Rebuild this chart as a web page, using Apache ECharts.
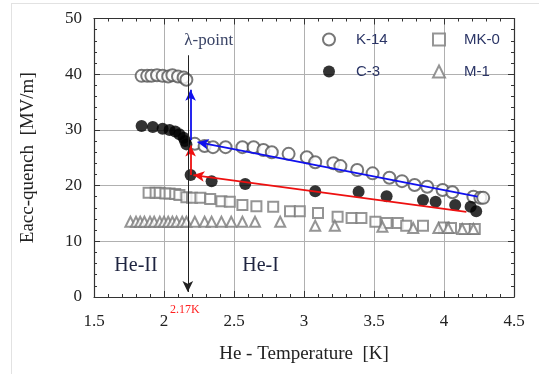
<!DOCTYPE html>
<html>
<head>
<meta charset="utf-8">
<script src="https://cdn.jsdelivr.net/npm/echarts@6/dist/echarts.min.js"></script>
<style>
  html, body { margin: 0; padding: 0; background: #fff; }
  #frame { position: absolute; left: 11px; top: 3px; width: 528px; height: 371px; border-top: 1px solid #e2e2e2; border-left: 1px solid #e2e2e2; }
  #chart { position: absolute; left: 0; top: 0; width: 539px; height: 374px; }
</style>
</head>
<body>
<div id="frame"></div>
<div id="chart"></div>
<script>
// K-14 (open circles)
const k14 = [
  [1.84, 39.7], [1.88, 39.7], [1.91, 39.7], [1.95, 39.8], [1.99, 39.7], [2.03, 39.6],
  [2.06, 39.8], [2.10, 39.6], [2.14, 39.4], [2.16, 39.0],
  [2.22, 27.5], [2.29, 27.1], [2.35, 26.9], [2.44, 26.9], [2.56, 26.9], [2.64, 26.9],
  [2.71, 26.4], [2.77, 26.0], [2.89, 25.7], [3.02, 25.1], [3.08, 24.2], [3.21, 24.0],
  [3.26, 23.5], [3.38, 22.8], [3.49, 22.2], [3.61, 21.4], [3.70, 20.8], [3.79, 20.1],
  [3.88, 19.8], [3.99, 19.2], [4.06, 18.8], [4.21, 18.0], [4.26, 17.8], [4.28, 17.8]
]
// C-3 (filled circles)
const c3 = [
  [1.84, 30.7], [1.92, 30.5], [1.99, 30.2], [2.04, 30.0], [2.08, 29.7], [2.11, 29.2],
  [2.14, 28.6], [2.15, 28.0], [2.16, 27.4],
  [2.19, 21.9], [2.34, 20.8], [2.58, 20.3], [3.08, 19.0], [3.39, 18.9], [3.59, 18.1],
  [3.85, 17.4], [3.94, 17.1], [4.08, 16.5], [4.19, 16.2], [4.23, 15.4]
]
// MK-0 (open squares)
const mk0 = [
  [1.89, 18.7], [1.94, 18.7], [1.97, 18.7], [2.01, 18.6], [2.04, 18.6], [2.08, 18.5],
  [2.11, 18.3], [2.16, 17.9], [2.20, 17.8], [2.26, 17.8], [2.33, 17.6], [2.41, 17.2],
  [2.47, 17.1], [2.56, 16.5], [2.66, 16.3], [2.78, 16.2], [2.90, 15.4], [2.97, 15.4],
  [3.10, 15.1], [3.24, 14.4], [3.34, 14.2], [3.41, 14.2], [3.51, 13.5], [3.59, 13.3],
  [3.67, 13.3], [3.73, 12.8], [3.85, 12.8], [4.00, 12.5], [4.05, 12.4], [4.15, 12.2],
  [4.22, 12.2]
]
// M-1 (open triangles)
const m1 = [
  [1.76, 13.5], [1.80, 13.5], [1.83, 13.5], [1.86, 13.5], [1.90, 13.5], [1.93, 13.5],
  [1.97, 13.5], [2.00, 13.5], [2.03, 13.5], [2.06, 13.5], [2.09, 13.5], [2.13, 13.5],
  [2.16, 13.5], [2.22, 13.5], [2.29, 13.5], [2.34, 13.5], [2.41, 13.5], [2.48, 13.5],
  [2.56, 13.5], [2.65, 13.5], [2.83, 13.5], [3.08, 12.8], [3.22, 12.8], [3.56, 12.6],
  [3.78, 12.4], [3.96, 12.4], [4.03, 12.4], [4.13, 12.2], [4.21, 12.2]
]

const lambdaT = 2.17
// arrows: [from, to, colour]
const arrows = [
  [[4.24, 18.0], [2.24, 27.8], '#1010ee'],
  [[2.19, 28.2], [2.19, 37.2], '#1010ee'],
  [[4.16, 15.3], [2.21, 21.9], '#ee1010'],
  [[2.19, 21.9], [2.19, 27.2], '#ee1010'],
  [[lambdaT, 43.4], [lambdaT, 0.9], '#222']
]
// text notes: [x, y, text]
const notes = [
  [2.32, 46.1, 'λ-point'],
  [1.80, 5.7, 'He-II'],
  [2.69, 5.7, 'He-I']
]

const serif = 'Liberation Serif'
const sans = 'Liberation Sans'

const chart = echarts.init(document.getElementById('chart'))

function axis(extra) {
  return Object.assign({
    axisLine: { show: true, onZero: false, lineStyle: { color: '#333', width: 1.2 } },
    axisTick: { show: true, inside: true, length: 6, lineStyle: { color: '#333' } },
    minorTick: { show: true, splitNumber: 5, length: 3, lineStyle: { color: '#333' } }
  }, extra)
}

function symbolSeries(name, data, symbol, size, color) {
  return {
    name: name,
    type: 'scatter',
    data: data,
    symbol: symbol,
    symbolSize: size,
    itemStyle: { color: color, borderWidth: 1 },
    z: 3
  }
}

chart.setOption({
  animation: false,
  textStyle: { fontFamily: serif },
  grid: { left: 94, right: 25, top: 18.5, bottom: 77, containLabel: false },
  xAxis: [
    axis({
      type: 'value', min: 1.5, max: 4.5, interval: 0.5, position: 'bottom',
      name: 'He - Temperature  [K]', nameLocation: 'middle', nameGap: 48,
      nameTextStyle: { fontFamily: serif, fontSize: 19, color: '#222' },
      axisLabel: { fontFamily: serif, fontSize: 17, color: '#222', margin: 16 },
      splitLine: { show: true, lineStyle: { color: '#b0b0b0' } }
    }),
    axis({
      type: 'value', min: 1.5, max: 4.5, interval: 0.5, position: 'top',
      axisLabel: { show: false }, splitLine: { show: false }
    })
  ],
  yAxis: [
    axis({
      type: 'value', min: 0, max: 50, interval: 10, position: 'left',
      name: 'Eacc-quench  [MV/m]', nameLocation: 'middle', nameGap: 56, nameRotate: 90,
      nameTextStyle: { fontFamily: serif, fontSize: 19, color: '#222' },
      axisLabel: { fontFamily: serif, fontSize: 17, color: '#222', margin: 12 },
      splitLine: { show: true, lineStyle: { color: '#b0b0b0' } }
    }),
    axis({
      type: 'value', min: 0, max: 50, interval: 10, position: 'right',
      axisLabel: { show: false }, splitLine: { show: false }
    })
  ],
  legend: [
    {
      data: ['K-14', 'C-3'], orient: 'vertical', left: 317, top: 27,
      itemWidth: 12, itemHeight: 12, itemGap: 17,
      textStyle: { fontFamily: sans, fontSize: 15, color: '#2b3566', padding: [0, 0, 0, 16] }
    },
    {
      data: ['MK-0', 'M-1'], orient: 'vertical', left: 427, top: 27,
      itemWidth: 12, itemHeight: 12, itemGap: 17,
      textStyle: { fontFamily: sans, fontSize: 15, color: '#2b3566', padding: [0, 0, 0, 14] }
    }
  ],
  series: [
    symbolSeries('MK-0', mk0, 'emptyRect', 10, '#7a7a7a'),
    symbolSeries('M-1', m1, 'emptyTriangle', 10, '#7a7a7a'),
    symbolSeries('K-14', k14, 'emptyCircle', 12, '#555'),
    symbolSeries('C-3', c3, 'circle', 12, '#000'),
    {
      name: 'notes',
      type: 'scatter',
      data: [],
      silent: true,
      z: 5,
      markLine: {
        silent: true,
        symbol: ['none', 'arrow'],
        symbolSize: [8, 11],
        label: { show: false },
        data: arrows.map(a => [
          { coord: a[0], lineStyle: { color: a[2], width: a[2] === '#222' ? 1 : 1.8, type: 'solid' } },
          { coord: a[1], lineStyle: { color: a[2], width: a[2] === '#222' ? 1 : 1.8, type: 'solid' } }
        ])
      },
      markPoint: {
        silent: true,
        symbol: 'circle',
        symbolSize: 0,
        label: {
          show: true, position: 'inside', formatter: p => p.name,
          fontFamily: serif, fontSize: 20, color: '#1e2440'
        },
        data: notes.map((n, i) => ({
          name: n[2], coord: [n[0], n[1]],
          label: i === 0 ? { fontSize: 17, color: '#3a4466' } : {}
        }))
      }
    }
  ],
  graphic: [{
    type: 'text', left: 170, top: 304, silent: true,
    style: { text: '2.17K', fontFamily: serif, fontSize: 12, fill: '#ff2020' }
  }]
})
</script>
</body>
</html>
